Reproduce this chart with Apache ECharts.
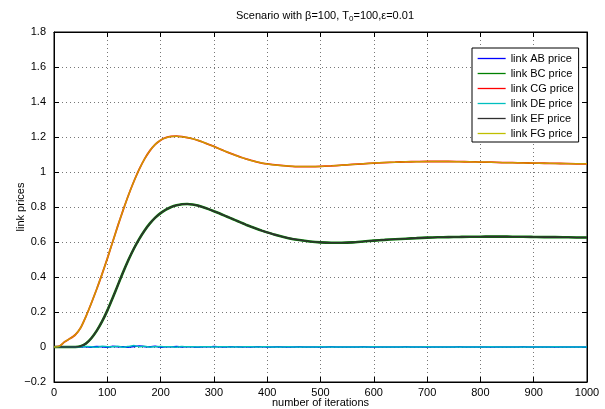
<!DOCTYPE html>
<html>
<head>
<meta charset="utf-8">
<script src="https://cdn.jsdelivr.net/npm/echarts@6/dist/echarts.min.js"></script>
<style>
  html, body { margin: 0; padding: 0; background: #fff; }
  #chart { width: 605px; height: 409px; }
</style>
</head>
<body>
<div id="chart"></div>
<script>
// iterations where the curves were sampled
const iterations = [
  0, 10, 20, 30, 40, 50, 60, 70, 80, 90,
  100, 110, 120, 130, 140, 150, 160, 170, 180, 190,
  200, 210, 220, 230, 240, 250, 260, 270, 280, 290,
  300, 310, 320, 330, 340, 350, 360, 370, 380, 390,
  400, 420, 440, 460, 480, 500, 520, 540, 560, 580,
  600, 620, 640, 660, 680, 700, 720, 740, 760, 780,
  800, 820, 840, 860, 880, 900, 920, 940, 960, 980,
  1000
];

// links CG and FG (same curve)
const upperPrice = [
  0, 0.004, 0.03, 0.048, 0.07, 0.11, 0.175, 0.25, 0.33, 0.415,
  0.505, 0.6, 0.695, 0.785, 0.87, 0.947, 1.016, 1.075, 1.122, 1.158,
  1.182, 1.196, 1.203, 1.205, 1.202, 1.197, 1.19, 1.181, 1.17, 1.158,
  1.146, 1.133, 1.12, 1.108, 1.096, 1.085, 1.075, 1.066, 1.058, 1.051,
  1.046, 1.039, 1.034, 1.031, 1.031, 1.032, 1.035, 1.039, 1.043, 1.047,
  1.051, 1.054, 1.056, 1.058, 1.059, 1.06, 1.06, 1.06, 1.059, 1.058,
  1.057, 1.056, 1.054, 1.053, 1.052, 1.051, 1.05, 1.049, 1.048, 1.047,
  1.047
];

// links BC and EF (same curve)
const lowerPrice = [
  0, 0, 0, 0, 0, 0.004, 0.02, 0.05, 0.092, 0.145,
  0.208, 0.28, 0.355, 0.43, 0.5, 0.563, 0.618, 0.666, 0.706, 0.739,
  0.765, 0.785, 0.8, 0.81, 0.816, 0.817, 0.814, 0.808, 0.799, 0.788,
  0.776, 0.764, 0.751, 0.738, 0.725, 0.712, 0.699, 0.687, 0.676, 0.665,
  0.655, 0.637, 0.622, 0.611, 0.603, 0.598, 0.596, 0.596, 0.598, 0.603,
  0.608, 0.612, 0.616, 0.619, 0.622, 0.625, 0.627, 0.628, 0.629, 0.63,
  0.63, 0.631, 0.631, 0.63, 0.63, 0.629, 0.628, 0.628, 0.627, 0.626,
  0.626
];

// links AB and DE stay around zero
const abPrice = [
  0, 0, 0, 0, 0, 0, 0.002, -0.001, 0.003, 0.001,
  -0.002, 0.004, 0.001, 0.002, -0.001, 0.003, 0.006, 0.002, 0.001, 0.004,
  -0.001, 0.002, 0.001, 0.003, 0, 0.002, 0.001, -0.001, 0.002, 0.001,
  0.003, 0.001, 0, 0.002, 0.001, 0, 0.001, 0, 0.002, 0.001,
  0, 0.001, 0, 0.001, 0, 0, 0.001, 0, 0, 0.001,
  0, 0, 0, 0.001, 0, 0, 0, 0, 0.001, 0,
  0, 0, 0, 0, 0.001, 0, 0, 0, 0, 0,
  0
];
const dePrice = [
  0, 0, 0, 0, 0, 0.001, 0.003, 0.001, -0.002, 0.004,
  0.002, 0.001, 0.005, -0.001, 0.003, 0.008, 0.002, 0.004, -0.001, 0.002,
  0.003, 0.001, 0.002, -0.001, 0.003, 0.001, 0.002, 0, 0.001, 0.002,
  0, 0.001, 0.002, 0, 0.001, 0, 0.002, 0.001, 0, 0.001,
  0.001, 0, 0.001, 0, 0, 0.001, 0, 0, 0, 0,
  0.001, 0, 0, 0, 0, 0.001, 0, 0, 0, 0,
  0, 0.001, 0, 0, 0, 0, 0, 0.001, 0, 0,
  0
];

const seriesNames = ['link AB price', 'link BC price', 'link CG price', 'link DE price', 'link EF price', 'link FG price'];
const seriesColors = ['#0000ff', '#008000', '#ff0000', '#00bfbf', '#303030', '#bfbf00'];
const seriesValues = [abPrice, lowerPrice, upperPrice, dePrice, lowerPrice, upperPrice];
const seriesWidths = [1.5, 2.6, 1.8, 1.5, 1.6, 1.5];
const seriesOpacity = [1, 1, 1, 1, 1, 0.8];

const xTicks = { min: 0, max: 1000, interval: 100 };
const yTicks = { min: -0.2, max: 1.8, interval: 0.2 };

const FONT = 'Liberation Sans';
const chart = echarts.init(document.getElementById('chart'));

const gridLine = { show: true, lineStyle: { color: '#777', width: 1, type: [1, 3] } };
const tick = { show: true, inside: true, length: 5, lineStyle: { color: '#000' } };
const axisLine = { show: true, onZero: false, lineStyle: { color: '#000', width: 1 } };
const minus = v => (v < 0 ? '\u2212' + Math.abs(v) : String(v));

chart.setOption({
  animation: false,
  title: {
    text: 'Scenario with \u03b2=100, T{sub|0}=100,\u03b5=0.01',
    left: 320,
    top: 4,
    textAlign: 'center',
    textStyle: {
      fontFamily: FONT, fontSize: 11, fontWeight: 'normal', color: '#000',
      rich: { sub: { fontFamily: FONT, fontSize: 8, verticalAlign: 'bottom', padding: [6, 0, 0, 0] } }
    }
  },
  grid: {
    left: 54, right: 18, top: 32, bottom: 27,
    outerBoundsMode: 'none', containLabel: false,
    show: true, borderColor: '#000', borderWidth: 1
  },
  legend: {
    orient: 'vertical',
    left: 472,
    top: 48,
    padding: [5, 5, 3, 5],
    itemWidth: 28,
    itemHeight: 10,
    itemGap: 4,
    borderColor: '#000',
    borderWidth: 1,
    backgroundColor: '#fff',
    itemStyle: { opacity: 0 },
    lineStyle: { width: 1.3, opacity: 1 },
    textStyle: { fontFamily: FONT, fontSize: 11, color: '#000', lineHeight: 10 },
    data: seriesNames
  },
  xAxis: [
    {
      type: 'value', ...xTicks,
      name: 'number of iterations', nameLocation: 'middle', nameGap: 15, nameMoveOverlap: false,
      nameTextStyle: { fontFamily: FONT, fontSize: 11, color: '#000' },
      axisLine, axisTick: tick, splitLine: gridLine,
      axisLabel: { fontFamily: FONT, fontSize: 11, color: '#000', margin: 5, formatter: v => String(v) }
    },
    {
      type: 'value', ...xTicks, position: 'top',
      axisLine, axisTick: tick, splitLine: { show: false }, axisLabel: { show: false }
    }
  ],
  yAxis: [
    {
      type: 'value', ...yTicks,
      name: 'link prices', nameLocation: 'middle', nameGap: 28, nameMoveOverlap: false,
      nameTextStyle: { fontFamily: FONT, fontSize: 11, color: '#000' },
      axisLine, axisTick: tick, splitLine: gridLine,
      axisLabel: { fontFamily: FONT, fontSize: 11, color: '#000', margin: 8, formatter: minus }
    },
    {
      type: 'value', ...yTicks, position: 'right',
      axisLine, axisTick: tick, splitLine: { show: false }, axisLabel: { show: false }
    }
  ],
  series: seriesNames.map((name, i) => ({
    name,
    type: 'line',
    symbol: 'none',
    smooth: 0.2,
    color: seriesColors[i],
    lineStyle: { color: seriesColors[i], width: seriesWidths[i], opacity: seriesOpacity[i] },
    data: iterations.map((x, j) => [x, seriesValues[i][j]])
  }))
});
</script>
</body>
</html>
